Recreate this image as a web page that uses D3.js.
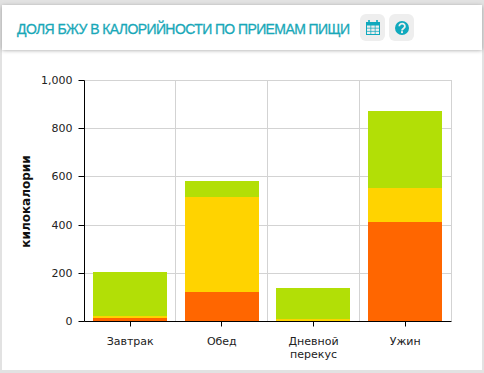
<!DOCTYPE html>
<html><head><meta charset="utf-8">
<script src="https://cdnjs.cloudflare.com/ajax/libs/d3/7.8.5/d3.min.js"></script>
<style>html,body{margin:0;padding:0;background:#fff;overflow:hidden}svg{display:block}</style>
</head><body><svg id="c" width="484" height="373"></svg>
<script>
const titleText = "ДОЛЯ БЖУ В КАЛОРИЙНОСТИ ПО ПРИЕМАМ ПИЩИ";
const yTitle = "килокалории";
const categories = [["Завтрак"],["Обед"],["Дневной","перекус"],["Ужин"]];
const orangeValues = [12,120,0,412];
const yellowValues = [8,395,8,141];
const greenValues = [185,67,129,319];
const seriesColors = ["#ff6600","#ffd300","#b2df06"];
const yTicks = [0,200,400,600,800,1000];

const svg = d3.select("#c");
const defs = svg.append("defs");
const blur = defs.append("filter").attr("id","sh").attr("x","-5%").attr("y","-20%").attr("width","110%").attr("height","150%");
blur.append("feGaussianBlur").attr("stdDeviation",2);

// page background and card
svg.append("rect").attr("width",484).attr("height",373).attr("fill","#e2e2e2");
svg.append("rect").attr("x",2).attr("y",5).attr("width",480).attr("height",365).attr("fill","#fff");
svg.append("rect").attr("x",2).attr("y",6).attr("width",480).attr("height",44).attr("fill","#999").attr("filter","url(#sh)");
svg.append("rect").attr("x",2).attr("y",5).attr("width",480).attr("height",45).attr("fill","#fff");

svg.append("text").attr("x",17).attr("y",34).attr("font-family","Liberation Sans").attr("font-size",14)
  .attr("textLength",333).attr("lengthAdjust","spacing").attr("fill","#19a8b8")
  .attr("stroke","#19a8b8").attr("stroke-width",0.3).text(titleText);

// header icons
const teal = "#0fa9bd";
svg.append("rect").attr("x",360).attr("y",14).attr("width",25).attr("height",27).attr("rx",6).attr("fill","#eeeeee");
svg.append("rect").attr("x",389).attr("y",14).attr("width",25).attr("height",27).attr("rx",6).attr("fill","#eeeeee");
const cal = svg.append("g").attr("fill","none").attr("stroke",teal);
cal.append("rect").attr("x",366.5).attr("y",22.5).attr("width",13).attr("height",12).attr("stroke-width",1);
cal.append("rect").attr("x",366).attr("y",22).attr("width",14).attr("height",3.5).attr("fill",teal).attr("stroke","none");
[370.8,375.2].forEach(x=>cal.append("line").attr("x1",x).attr("x2",x).attr("y1",25).attr("y2",35).attr("stroke-width",.7));
[28.2,31.4].forEach(y=>cal.append("line").attr("x1",366).attr("x2",380).attr("y1",y).attr("y2",y).attr("stroke-width",.7));
[369,377].forEach(x=>cal.append("line").attr("x1",x).attr("x2",x).attr("y1",20).attr("y2",23.5).attr("stroke-width",1.6));
svg.append("circle").attr("cx",402).attr("cy",28).attr("r",7).attr("fill",teal);
svg.append("path").attr("d","M399.3,26.2a2.8,2.6 0 1 1 4.4,2.1c-1,.7 -1.7,1.1 -1.7,2.1")
  .attr("fill","none").attr("stroke","#eee").attr("stroke-width",1.8);
svg.append("rect").attr("x",401).attr("y",31.2).attr("width",2).attr("height",1.9).attr("fill","#eee");

// chart
const xb = d3.scaleBand().domain(d3.range(categories.length)).range([84.33,451]);
const x = d3.scaleBand().domain(d3.range(categories.length)).range([84.33,451]).paddingInner(0.2).paddingOuter(0.1);
const y = d3.scaleLinear().domain([0,1000]).range([321.5,80.5]);
const crisp = v => Math.floor(v)+.5;

const grid = svg.append("g").attr("stroke","#d3d3d3");
yTicks.filter(d=>d>0).forEach(t=>grid.append("line").attr("x1",84.5).attr("x2",452).attr("y1",crisp(y(t))).attr("y2",crisp(y(t))));
categories.forEach((c,i)=>{
  const gx = crisp(xb(i)+xb.step());
  grid.append("line").attr("x1",gx).attr("x2",gx).attr("y1",80.5).attr("y2",321);
});

const stackData = categories.map((c,i)=>({i,o:orangeValues[i],a:yellowValues[i],g:greenValues[i]}));
const layers = d3.stack().keys(["o","a","g"])(stackData);
svg.append("g").selectAll("g").data(layers).join("g").attr("fill",(d,i)=>seriesColors[i])
  .selectAll("rect").data(d=>d).join("rect")
  .attr("x",d=>Math.floor(x(d.data.i))).attr("width",Math.ceil(x.bandwidth()))
  .attr("y",d=>Math.floor(y(d[1]))).attr("height",d=>Math.floor(y(d[0]))-Math.floor(y(d[1])));

const yAxis = d3.axisLeft(y).tickValues(yTicks).tickFormat(d3.format(",")).tickSize(6).tickPadding(6).offset(0);
const gy = svg.append("g").attr("transform","translate(84.5,0)").call(yAxis);
gy.select(".domain").attr("d","M0,80.5V321.5");
gy.selectAll(".tick").attr("transform",d=>`translate(0,${crisp(y(d))})`);
const xAxis = d3.axisBottom(xb).tickSize(5).tickFormat("").offset(0);
const gx = svg.append("g").attr("transform","translate(0,321.5)").call(xAxis);
gx.select(".domain").attr("d","M84.5,0H451.5");
gx.selectAll(".tick").attr("transform",d=>`translate(${crisp(xb(d)+xb.bandwidth()/2)},0)`);
[gy,gx].forEach(g=>{g.selectAll("path,line").attr("stroke","#000");});
gy.selectAll("text").attr("font-family","DejaVu Sans").attr("font-size",11).attr("fill","#222");

const lab = svg.append("g").attr("font-family","DejaVu Sans").attr("font-size",11).attr("fill","#222").attr("text-anchor","middle");
categories.forEach((c,i)=>{
  c.forEach((s,k)=>lab.append("text").attr("x",xb(i)+xb.bandwidth()/2).attr("y",345+k*13).text(s));
});
svg.append("text").attr("transform","translate(29.5,201.5) rotate(-90)").attr("text-anchor","middle")
  .attr("font-family","DejaVu Sans").attr("font-weight","bold").attr("font-size",12).attr("fill","#111").text(yTitle);
</script></body></html>
